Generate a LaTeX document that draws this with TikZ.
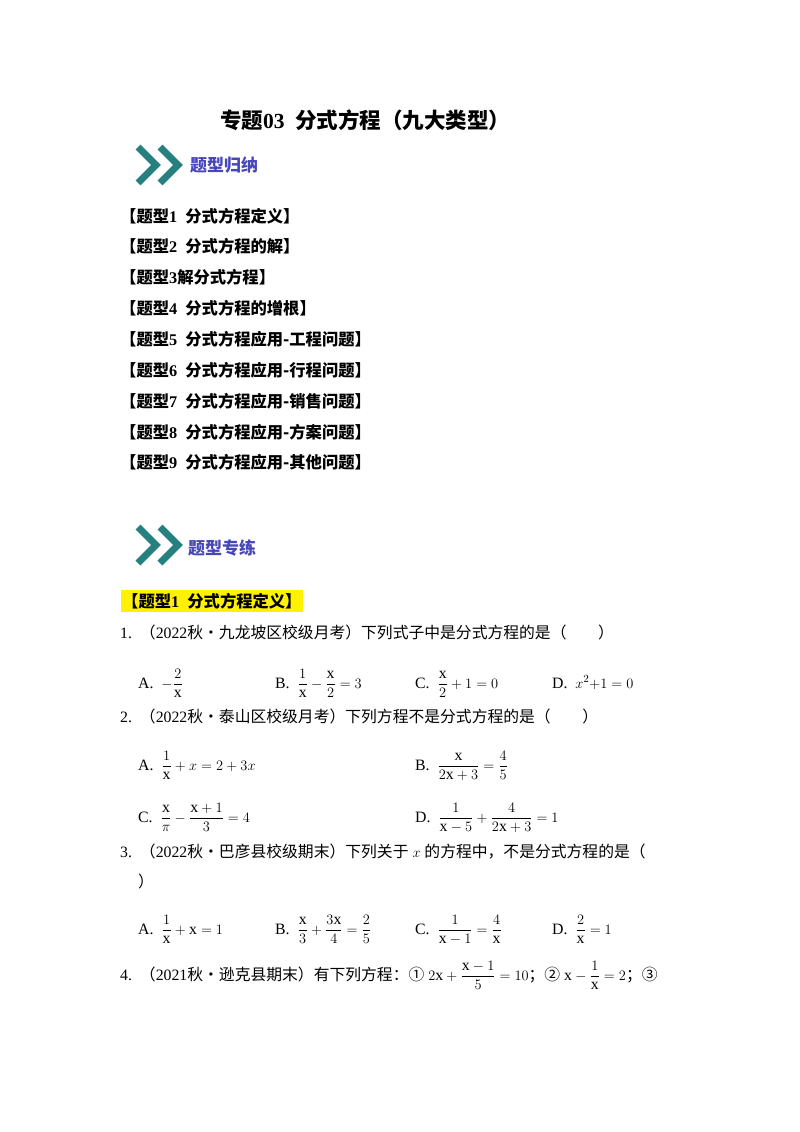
\documentclass[tikz,border=0pt]{standalone}
\usepackage{amsmath}
\usepackage{fontspec}
\setmainfont{Liberation Serif}
\newfontfamily\cjk{Noto Sans CJK SC}
\begin{document}
\begin{tikzpicture}[x=1pt,y=-1pt,
  t/.style={anchor=base west,inner sep=0pt,font=\fontsize{15.8}{17}\selectfont},
  h/.style={anchor=base west,inner sep=0pt,font=\fontsize{16.3}{17}\selectfont\bfseries},
  chev/.style={line width=7pt,color=teal!70!gray,line cap=butt},
  tag/.style={anchor=west,inner sep=0pt,font=\fontsize{17}{18}\selectfont\bfseries\itshape\cjk,text=blue!45!gray}]
\fill[white] (0,0) rectangle (800,1132);
\useasboundingbox (0,0) rectangle (800,1132);
\node[anchor=base west,inner sep=0pt,font=\fontsize{21.5}{22}\selectfont\bfseries] (title) at (220,128) {{\cjk 专题}03\ \ {\cjk 分式方程（九大类型）}};
% icon 1
\draw[chev] (138,147)--(156,165)--(138,183);
\draw[chev] (160,147)--(178,165)--(160,183);
\node[tag] (tag1) at (190,165) {题型归纳};
% list
\foreach \y/\s in {222/{1\ \ {\cjk 分式方程定义}},252/{2\ \ {\cjk 分式方程的解}},283/{3{\cjk 解分式方程}},314/{4\ \ {\cjk 分式方程的增根}},345/{5\ \ {\cjk 分式方程应用-工程问题}},376/{6\ \ {\cjk 分式方程应用-行程问题}},407/{7\ \ {\cjk 分式方程应用-销售问题}},438/{8\ \ {\cjk 分式方程应用-方案问题}},468/{9\ \ {\cjk 分式方程应用-其他问题}}}
  \node[h] at (120,\y) {{\cjk 【题型}\s{\cjk 】}};
% icon 2
\draw[chev] (138,527)--(156,545)--(138,563);
\draw[chev] (160,527)--(178,545)--(160,563);
\node[tag] (tag2) at (188,548) {题型专练};
\node[h,fill=yellow,inner ysep=3pt,inner xsep=1pt] (s1) at (121,607) {{\cjk 【题型}1\ \ {\cjk 分式方程定义】}};
% Q1
\node[t] (q1) at (120,638) {1.\ \ {\cjk （}2022{\cjk 秋•九龙坡区校级月考）下列式子中是分式方程的是（\quad\quad ）}};
\node[t] at (138,688) {A.\ \ $-\dfrac{2}{\mathrm{x}}$};
\node[t] at (275,688) {B.\ \ $\dfrac{1}{\mathrm{x}}-\dfrac{\mathrm{x}}{2}=3$};
\node[t] at (415,688) {C.\ \ $\dfrac{\mathrm{x}}{2}+1=0$};
\node[t] at (552,688) {D.\ \ $x^2{+}1=0$};
% Q2
\node[t] (q2) at (120,722) {2.\ \ {\cjk （}2022{\cjk 秋•泰山区校级月考）下列方程不是分式方程的是（\quad\quad ）}};
\node[t] at (138,770) {A.\ \ $\dfrac{1}{\mathrm{x}}+x=2+3x$};
\node[t] at (415,770) {B.\ \ $\dfrac{\mathrm{x}}{2\mathrm{x}+3}=\dfrac{4}{5}$};
\node[t] at (138,822) {C.\ \ $\dfrac{\mathrm{x}}{\pi}-\dfrac{\mathrm{x}+1}{3}=4$};
\node[t] at (415,822) {D.\ \ $\dfrac{1}{\mathrm{x}-5}+\dfrac{4}{2\mathrm{x}+3}=1$};
% Q3
\node[t] (q3) at (120,857) {3.\ \ {\cjk （}2022{\cjk 秋•巴彦县校级期末）下列关于} $x$ {\cjk 的方程中，不是分式方程的是（}};
\node[t] at (138,887) {{\cjk ）}};
\node[t] at (138,934) {A.\ \ $\dfrac{1}{\mathrm{x}}+\mathrm{x}=1$};
\node[t] at (275,934) {B.\ \ $\dfrac{\mathrm{x}}{3}+\dfrac{3\mathrm{x}}{4}=\dfrac{2}{5}$};
\node[t] at (415,934) {C.\ \ $\dfrac{1}{\mathrm{x}-1}=\dfrac{4}{\mathrm{x}}$};
\node[t] at (552,934) {D.\ \ $\dfrac{2}{\mathrm{x}}=1$};
% Q4
\node[t] (q4) at (120,980) {4.\ \ {\cjk （}2021{\cjk 秋•逊克县期末）有下列方程：①} $2\mathrm{x}+\dfrac{\mathrm{x}-1}{5}=10${\cjk ；②} $\mathrm{x}-\dfrac{1}{\mathrm{x}}=2${\cjk ；③}};
\end{tikzpicture}
\end{document}
